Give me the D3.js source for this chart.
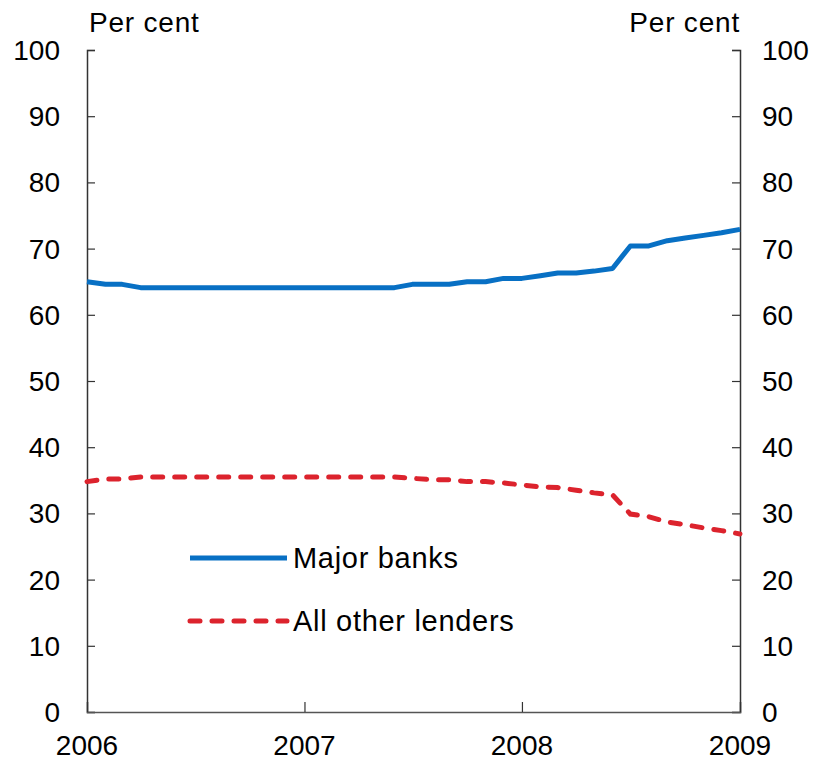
<!DOCTYPE html>
<html>
<head>
<meta charset="utf-8">
<script src="https://cdn.jsdelivr.net/npm/d3@7"></script>
<style>
  body { margin: 0; background: #fff; }
  text { font-family: "Liberation Sans", Arial, sans-serif; fill: #000; }
</style>
</head>
<body>
<script>
// --------DATA--------------
// monthly, Jan 2006 .. Jan 2009
var months = d3.range(37).map(function(i) { return new Date(2006, i, 1); });

var majorBanks = [65.0, 64.6, 64.6, 64.1, 64.1, 64.1, 64.1, 64.1, 64.1, 64.1,
  64.1, 64.1, 64.1, 64.1, 64.1, 64.1, 64.1, 64.1, 64.6, 64.6,
  64.6, 65.0, 65.0, 65.5, 65.5, 65.9, 66.3, 66.3, 66.6, 67.0,
  70.4, 70.4, 71.2, 71.6, 72.0, 72.4, 72.9];

var otherLenders = [34.8, 35.2, 35.2, 35.5, 35.5, 35.5, 35.5, 35.5, 35.5, 35.5,
  35.5, 35.5, 35.5, 35.5, 35.5, 35.5, 35.5, 35.5, 35.3, 35.1,
  35.1, 34.8, 34.8, 34.6, 34.3, 34.0, 33.9, 33.5, 33.1, 32.8,
  29.9, 29.5, 28.7, 28.3, 27.8, 27.4, 26.9];

var yTicks = [0, 10, 20, 30, 40, 50, 60, 70, 80, 90, 100];
var xTicks = [2006, 2007, 2008, 2009];
var seriesNames = ["Major banks", "All other lenders"];

// --------SETUP--------------
var width = 815, height = 760;
var margin = {top: 50, right: 75, bottom: 48, left: 87};

var svg = d3.select("body").append("svg")
  .attr("width", width)
  .attr("height", height);

var x = d3.scaleTime()
  .domain([new Date(2006, 0, 1), new Date(2009, 0, 1)])
  .range([margin.left, width - margin.right]);

var y = d3.scaleLinear()
  .domain([0, 100])
  .range([height - margin.bottom, margin.top]);

// --------AXES--------------
var axisColor = "#333";

svg.append("g")
  .attr("transform", "translate(" + margin.left + ",0)")
  .call(d3.axisRight(y).tickValues(yTicks).tickSize(8).tickFormat(""));

svg.append("g")
  .attr("transform", "translate(" + (width - margin.right) + ",0)")
  .call(d3.axisLeft(y).tickValues(yTicks).tickSize(8).tickFormat(""));

svg.append("g")
  .attr("class", "xaxis")
  .attr("transform", "translate(0," + y(0) + ")")
  .call(d3.axisTop(x).tickValues(xTicks.map(function(d) { return new Date(d, 0, 1); }))
    .tickSize(10).tickFormat(""));

svg.selectAll(".domain").attr("stroke", axisColor).attr("stroke-width", 1.5);
svg.selectAll(".tick line").attr("stroke", axisColor).attr("stroke-width", 1.2);
svg.select(".xaxis .domain").attr("stroke", "#555");

// tick labels
svg.selectAll(".ylab-left")
  .data(yTicks)
  .enter().append("text")
  .attr("x", 60)
  .attr("y", function(d) { return y(d); })
  .attr("dy", "0.36em")
  .attr("text-anchor", "end")
  .style("font-size", "28px")
  .text(function(d) { return d; });

svg.selectAll(".ylab-right")
  .data(yTicks)
  .enter().append("text")
  .attr("x", 762)
  .attr("y", function(d) { return y(d); })
  .attr("dy", "0.36em")
  .attr("text-anchor", "start")
  .style("font-size", "28px")
  .text(function(d) { return d; });

svg.selectAll(".xlab")
  .data(xTicks)
  .enter().append("text")
  .attr("x", function(d) { return x(new Date(d, 0, 1)); })
  .attr("y", 755)
  .attr("text-anchor", "middle")
  .style("font-size", "28px")
  .text(function(d) { return d; });

svg.append("text")
  .attr("x", margin.left + 2)
  .attr("y", 32)
  .style("font-size", "28px")
  .style("letter-spacing", "0.8px")
  .text("Per cent");

svg.append("text")
  .attr("x", width - margin.right)
  .attr("y", 32)
  .attr("text-anchor", "end")
  .style("font-size", "28px")
  .style("letter-spacing", "0.8px")
  .text("Per cent");

// --------LINES--------------
var line = d3.line()
  .x(function(d, i) { return x(months[i]); })
  .y(function(d) { return y(d); });

var blue = "#0870c4", red = "#dc232d";

svg.append("path")
  .datum(otherLenders)
  .attr("d", line)
  .attr("fill", "none")
  .attr("stroke", red)
  .attr("stroke-width", 5)
  .attr("stroke-linecap", "round")
  .attr("stroke-dasharray", "10,12");

svg.append("path")
  .datum(majorBanks)
  .attr("d", line)
  .attr("fill", "none")
  .attr("stroke", blue)
  .attr("stroke-width", 5)
  .attr("stroke-linejoin", "round");

// --------LEGEND--------------
var legend = svg.selectAll(".legend")
  .data(seriesNames)
  .enter().append("g")
  .attr("transform", function(d, i) { return "translate(190," + (558 + i * 63) + ")"; });

legend.append("line")
  .attr("x1", 0)
  .attr("x2", 97)
  .attr("stroke", function(d, i) { return i == 0 ? blue : red; })
  .attr("stroke-width", 5)
  .attr("stroke-linecap", function(d, i) { return i == 0 ? "butt" : "round"; })
  .attr("stroke-dasharray", function(d, i) { return i == 0 ? null : "10,12"; });

legend.append("text")
  .attr("x", 103)
  .attr("dy", "0.36em")
  .style("font-size", "29px")
  .style("letter-spacing", "0.7px")
  .text(function(d) { return d; });
</script>
</body>
</html>
